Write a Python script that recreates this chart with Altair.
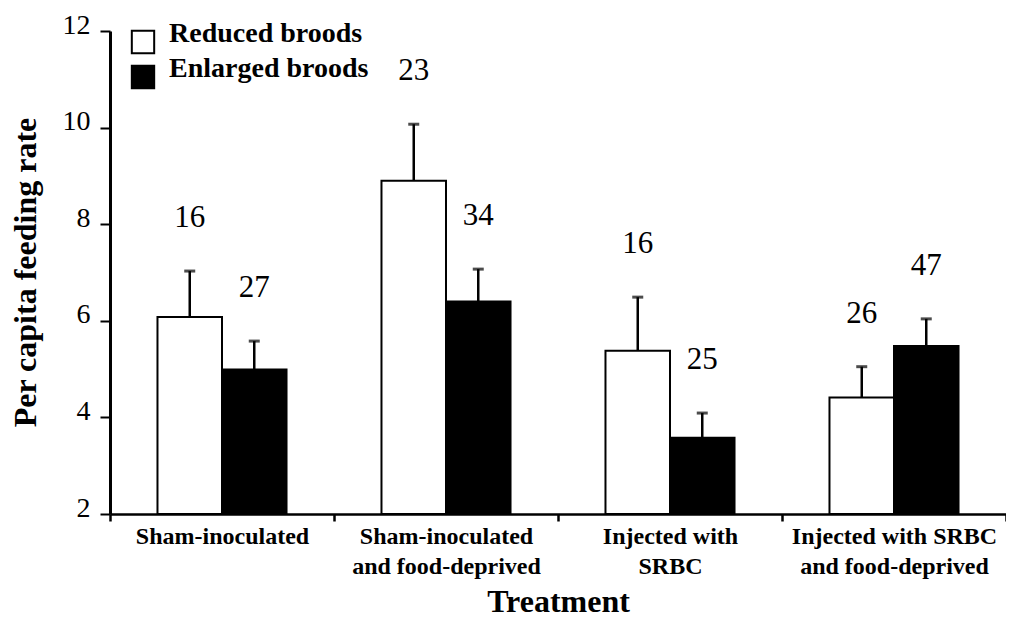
import altair as alt
import pandas as pd

# ---- data ----
categories = [
    "Sham-inoculated",
    "Sham-inoculated\nand food-deprived",
    "Injected with\nSRBC",
    "Injected with SRBC\nand food-deprived",
]
series = ["Reduced broods", "Enlarged broods"]
reduced_mean = [6.08, 8.90, 5.38, 4.41]
reduced_upper = [7.03, 10.07, 6.49, 5.05]
enlarged_mean = [4.99, 6.40, 3.58, 5.48]
enlarged_upper = [5.58, 7.07, 4.09, 6.04]
reduced_n = [16, 23, 16, 26]
enlarged_n = [27, 34, 25, 47]
y_ticks = [2, 4, 6, 8, 10, 12]

rows = []
for i, c in enumerate(categories):
    rows.append({"cat": c, "grp": series[0], "mean": reduced_mean[i],
                 "upper": reduced_upper[i], "n": str(reduced_n[i])})
    rows.append({"cat": c, "grp": series[1], "mean": enlarged_mean[i],
                 "upper": enlarged_upper[i], "n": str(enlarged_n[i])})
df = pd.DataFrame(rows)

FONT = "Liberation Serif"

x_enc = alt.X(
    "cat:N",
    sort=categories,
    scale=alt.Scale(paddingInner=0, paddingOuter=0),
    axis=alt.Axis(
        title="Treatment",
        labelExpr="split(datum.label, '\\n')",
        labelAngle=0,
        labelFont=FONT,
        labelFontWeight="bold",
        labelFontSize=24,
        labelLineHeight=30,
        labelColor="black",
        labelPadding=3,
        labelLimit=0,
        labelOverlap=False,
        tickBand="extent",
        tickSize=7,
        tickWidth=2.5,
        tickColor="black",
        domainColor="black",
        domainWidth=2.5,
        titleFont=FONT,
        titleFontWeight="bold",
        titleFontSize=32,
        titleColor="black",
        titleBaseline="alphabetic",
        titleY=97,
    ),
)
xoff_enc = alt.XOffset("grp:N", sort=series,
                       scale=alt.Scale(paddingInner=0, paddingOuter=0.736))
y_scale = alt.Scale(domain=[2, 12], zero=False, nice=False)
y_enc = alt.Y(
    "mean:Q",
    scale=y_scale,
    axis=alt.Axis(
        title="Per capita feeding rate",
        values=y_ticks,
        grid=False,
        labelFont=FONT,
        labelFontSize=28,
        labelColor="black",
        labelBaseline="alphabetic",
        labelOffset=2,
        labelPadding=10,
        tickSize=10,
        tickWidth=2,
        tickColor="black",
        domainColor="black",
        domainWidth=3,
        titleFont=FONT,
        titleFontWeight="bold",
        titleFontSize=32,
        titleColor="black",
        titleX=-85,
        titleY=241,
        titleBaseline="middle",
    ),
)

base = alt.Chart(df)

bars = base.mark_bar(stroke="black", strokeWidth=2).encode(
    x=x_enc,
    xOffset=xoff_enc,
    y=y_enc,
    y2=alt.datum(2),
    fill=alt.Fill(
        "grp:N",
        sort=series,
        scale=alt.Scale(domain=series, range=["white", "black"]),
        legend=alt.Legend(
            title=None,
            orient="none",
            legendX=19,
            legendY=-3,
            padding=0,
            symbolType="square",
            symbolSize=500,
            symbolStrokeColor="black",
            symbolStrokeWidth=2,
            labelFont=FONT,
            labelFontWeight="bold",
            labelFontSize=28,
            labelColor="black",
            labelBaseline="alphabetic",
            labelOffset=12,
            labelLimit=0,
            rowPadding=-3,
        ),
    ),
)

err = base.mark_rule(color="black", strokeWidth=2.5).encode(
    x=x_enc, xOffset=xoff_enc,
    y=alt.Y("mean:Q", scale=y_scale), y2="upper:Q",
)

caps = base.mark_tick(color="black", thickness=3, size=11, orient="horizontal").encode(
    x=x_enc, xOffset=xoff_enc,
    y=alt.Y("upper:Q", scale=y_scale),
)

labels = base.mark_text(font=FONT, fontSize=31, color="black",
                        baseline="alphabetic", dy=-44).encode(
    x=x_enc, xOffset=xoff_enc,
    y=alt.Y("upper:Q", scale=y_scale),
    text="n:N",
)

chart = (
    alt.layer(bars, err, caps, labels)
    .properties(
        width=896,
        height=483,
        autosize=alt.AutoSizeParams(type="none"),
        padding={"left": 102, "top": 23, "right": 0, "bottom": 106},
        background="white",
    )
    .configure_view(stroke=None)
)

chart.save("out.html", embed_options={"renderer": "svg", "actions": False})
